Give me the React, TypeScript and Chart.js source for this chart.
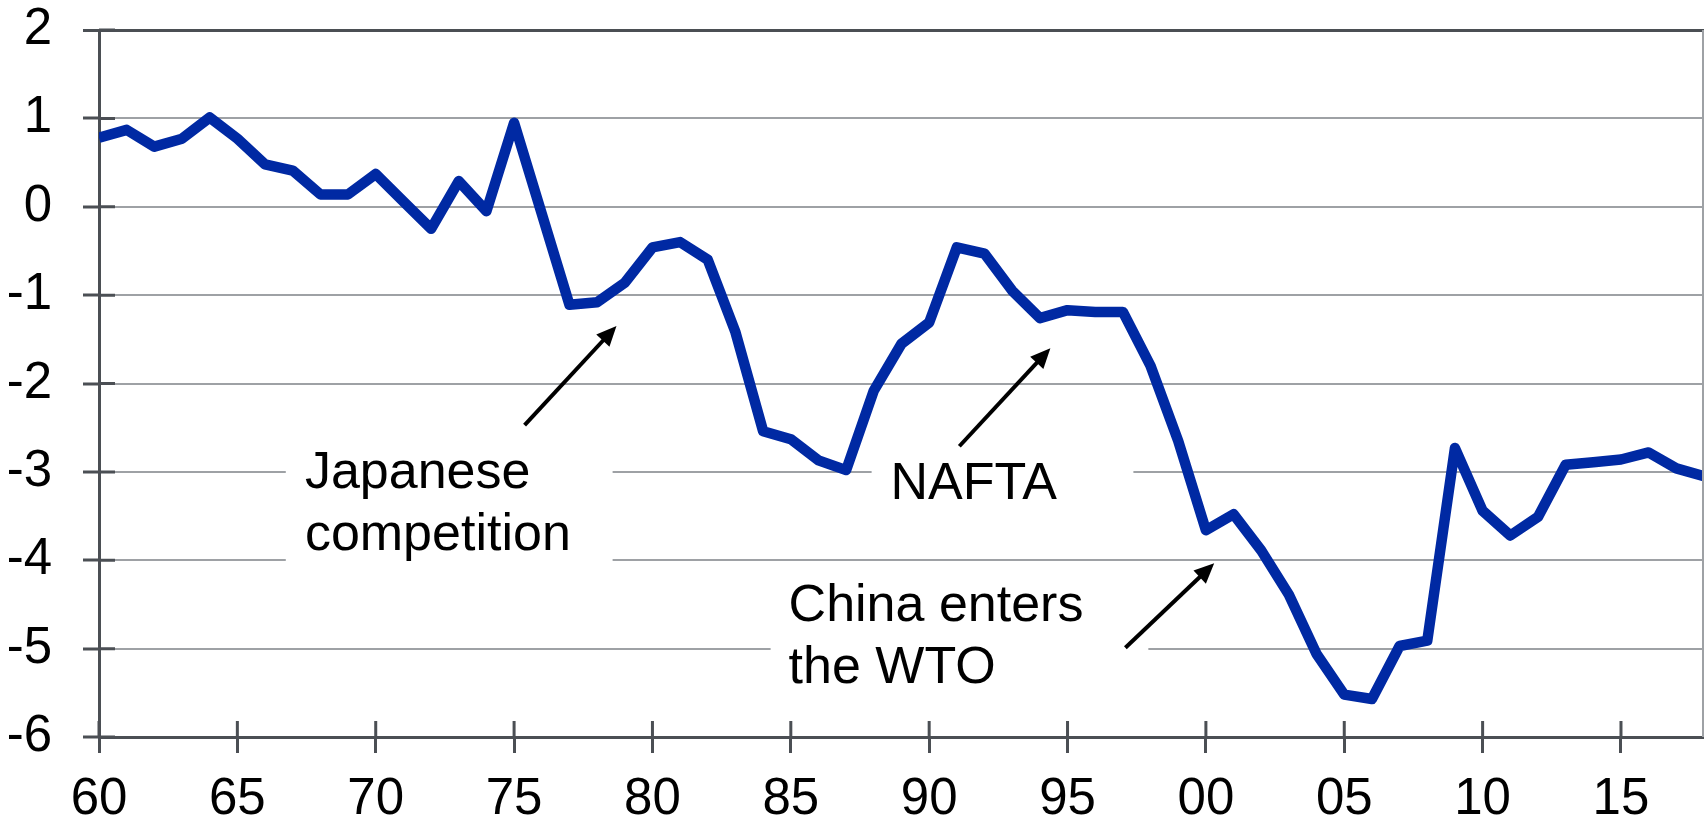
import { useEffect, useRef } from "react";
import { Chart, registerables } from "chart.js";

Chart.register(...registerables);

// Annual series, 1960–2018
const years = [
  1960, 1961, 1962, 1963, 1964, 1965, 1966, 1967, 1968, 1969,
  1970, 1971, 1972, 1973, 1974, 1975, 1976, 1977, 1978, 1979,
  1980, 1981, 1982, 1983, 1984, 1985, 1986, 1987, 1988, 1989,
  1990, 1991, 1992, 1993, 1994, 1995, 1996, 1997, 1998, 1999,
  2000, 2001, 2002, 2003, 2004, 2005, 2006, 2007, 2008, 2009,
  2010, 2011, 2012, 2013, 2014, 2015, 2016, 2017, 2018,
];

const values = [
  0.78, 0.87, 0.68, 0.77, 1.01, 0.77, 0.48, 0.41, 0.14, 0.14,
  0.37, 0.06, -0.25, 0.29, -0.05, 0.95, -0.08, -1.11, -1.08, -0.86,
  -0.46, -0.4, -0.6, -1.42, -2.54, -2.63, -2.87, -2.98, -2.08, -1.55,
  -1.31, -0.46, -0.53, -0.95, -1.26, -1.17, -1.19, -1.19, -1.8, -2.65,
  -3.66, -3.48, -3.89, -4.39, -5.06, -5.52, -5.57, -4.97, -4.91, -2.73,
  -3.44, -3.72, -3.51, -2.92, -2.89, -2.86, -2.78, -2.96, -3.05,
];

const yTickValues = [2, 1, 0, -1, -2, -3, -4, -5, -6];
const xTickYears = [1960, 1965, 1970, 1975, 1980, 1985, 1990, 1995, 2000, 2005, 2010, 2015];

const noteTexts = [
  ["Japanese", "competition"],
  ["NAFTA"],
  ["China enters", "the WTO"],
];

// Placement of each callout, in axis units (year, value)
const noteLayout = [
  {
    box: [1966.75, -2.53, 1978.56, -4.11],
    text: [1967.44, -3.18],
    arrow: [1975.38, -2.47, 1978.7, -1.35],
  },
  {
    box: [1987.92, -2.64, 1997.38, -3.545],
    text: [1988.6, -3.31],
    arrow: [1991.09, -2.71, 1994.38, -1.6],
  },
  {
    box: [1984.27, -4.28, 1997.92, -5.69],
    text: [1984.92, -4.69],
    arrow: [1997.09, -4.99, 2000.3, -4.035],
  },
];

const FONT = '"Liberation Sans", Arial, sans-serif';
const DARK = "#4b4f54";
const GRID = "#9ea1a5";
const LINE = "#0029a3";
const TICK = 16;
const NOTE_SIZE = 52;
const NOTE_LINE = 62;

const framePlugin = {
  id: "frame",
  beforeDatasetsDraw(chart: any) {
    const { ctx, scales } = chart;
    const x = scales.x;
    const y = scales.y;
    ctx.save();
    ctx.fillStyle = "#ffffff";
    for (const n of noteLayout) {
      const x0 = x.getPixelForValue(n.box[0]);
      const y0 = y.getPixelForValue(n.box[1]);
      const x1 = x.getPixelForValue(n.box[2]);
      const y1 = y.getPixelForValue(n.box[3]);
      ctx.fillRect(x0, y0, x1 - x0, y1 - y0);
    }
    ctx.restore();
  },
  afterDraw(chart: any) {
    const { ctx, scales, chartArea } = chart;
    const x = scales.x;
    const y = scales.y;
    ctx.save();

    // right frame edge
    ctx.strokeStyle = GRID;
    ctx.lineWidth = 2;
    ctx.beginPath();
    ctx.moveTo(chartArea.right - 1, chartArea.top);
    ctx.lineTo(chartArea.right - 1, chartArea.bottom);
    ctx.stroke();

    // tick marks crossing into the plot
    ctx.strokeStyle = DARK;
    ctx.lineWidth = 3;
    ctx.beginPath();
    for (const v of yTickValues) {
      const py = y.getPixelForValue(v);
      ctx.moveTo(chartArea.left, py);
      ctx.lineTo(chartArea.left + TICK, py);
    }
    for (const v of xTickYears) {
      const px = x.getPixelForValue(v);
      ctx.moveTo(px, chartArea.bottom);
      ctx.lineTo(px, chartArea.bottom - TICK);
    }
    ctx.stroke();

    // callouts
    ctx.fillStyle = "#000000";
    ctx.font = `${NOTE_SIZE}px ${FONT}`;
    ctx.textAlign = "left";
    ctx.textBaseline = "alphabetic";
    noteLayout.forEach((n, i) => {
      const tx = x.getPixelForValue(n.text[0]);
      const ty = y.getPixelForValue(n.text[1]);
      noteTexts[i].forEach((line, k) => ctx.fillText(line, tx, ty + k * NOTE_LINE));

      const ax = x.getPixelForValue(n.arrow[0]);
      const ay = y.getPixelForValue(n.arrow[1]);
      const bx = x.getPixelForValue(n.arrow[2]);
      const by = y.getPixelForValue(n.arrow[3]);
      const ang = Math.atan2(by - ay, bx - ax);
      const head = 20;
      const half = 9;
      const hx = bx - head * Math.cos(ang);
      const hy = by - head * Math.sin(ang);
      ctx.strokeStyle = "#000000";
      ctx.lineWidth = 4;
      ctx.beginPath();
      ctx.moveTo(ax, ay);
      ctx.lineTo(hx + 2 * Math.cos(ang), hy + 2 * Math.sin(ang));
      ctx.stroke();
      ctx.beginPath();
      ctx.moveTo(bx, by);
      ctx.lineTo(hx - half * Math.sin(ang), hy + half * Math.cos(ang));
      ctx.lineTo(hx + half * Math.sin(ang), hy - half * Math.cos(ang));
      ctx.closePath();
      ctx.fill();
    });
    ctx.restore();
  },
};

export default function App() {
  const canvasRef = useRef<HTMLCanvasElement | null>(null);

  useEffect(() => {
    const canvas = canvasRef.current;
    if (!canvas) return;
    const chart = new Chart(canvas, {
      type: "line",
      data: {
        datasets: [
          {
            data: years.map((yr, i) => ({ x: yr, y: values[i] })),
            borderColor: LINE,
            borderWidth: 10.5,
            borderJoinStyle: "round",
            pointRadius: 0,
            tension: 0,
            fill: false,
          },
        ],
      },
      options: {
        animation: false,
        responsive: false,
        devicePixelRatio: 1,
        parsing: false,
        layout: { padding: { top: 30, right: 0, bottom: 0, left: 0 } },
        plugins: { legend: { display: false }, tooltip: { enabled: false } },
        scales: {
          x: {
            type: "linear",
            min: 1960,
            max: 2018,
            afterBuildTicks: (s: any) => {
              s.ticks = xTickYears.map((v) => ({ value: v }));
            },
            afterFit: (s: any) => {
              s.height = 84;
              s.paddingLeft = 0;
              s.paddingRight = 0;
            },
            grid: {
              drawOnChartArea: false,
              drawTicks: true,
              tickLength: TICK,
              tickColor: DARK,
              tickWidth: 3,
              color: DARK,
              lineWidth: 3,
            },
            border: { display: true, color: DARK, width: 3 },
            ticks: {
              color: "#000000",
              font: { family: FONT, size: 51 },
              padding: 16,
              maxRotation: 0,
              autoSkip: false,
              callback: (v: any) => String(Number(v) % 100).padStart(2, "0"),
            },
          },
          y: {
            type: "linear",
            min: -6,
            max: 2,
            afterBuildTicks: (s: any) => {
              s.ticks = yTickValues.map((v) => ({ value: v }));
            },
            afterFit: (s: any) => {
              s.width = 99;
              s.paddingTop = 0;
              s.paddingBottom = 0;
            },
            grid: {
              color: (c: any) => (c.tick && c.tick.value === 2 ? DARK : GRID),
              lineWidth: (c: any) => (c.tick && c.tick.value === 2 ? 3 : 2),
              drawTicks: true,
              tickLength: TICK,
              tickColor: DARK,
              tickWidth: 3,
            },
            border: { display: true, color: DARK, width: 3 },
            ticks: {
              color: "#000000",
              font: { family: FONT, size: 51 },
              padding: 31,
              autoSkip: false,
              callback: (v: any) => String(v),
            },
          },
        },
      } as any,
      plugins: [framePlugin],
    });
    return () => chart.destroy();
  }, []);

  return (
    <div style={{ position: "fixed", left: 0, top: 0, width: 1704, height: 821, background: "#ffffff" }}>
      <canvas ref={canvasRef} width={1704} height={821} style={{ display: "block" }} />
    </div>
  );
}
